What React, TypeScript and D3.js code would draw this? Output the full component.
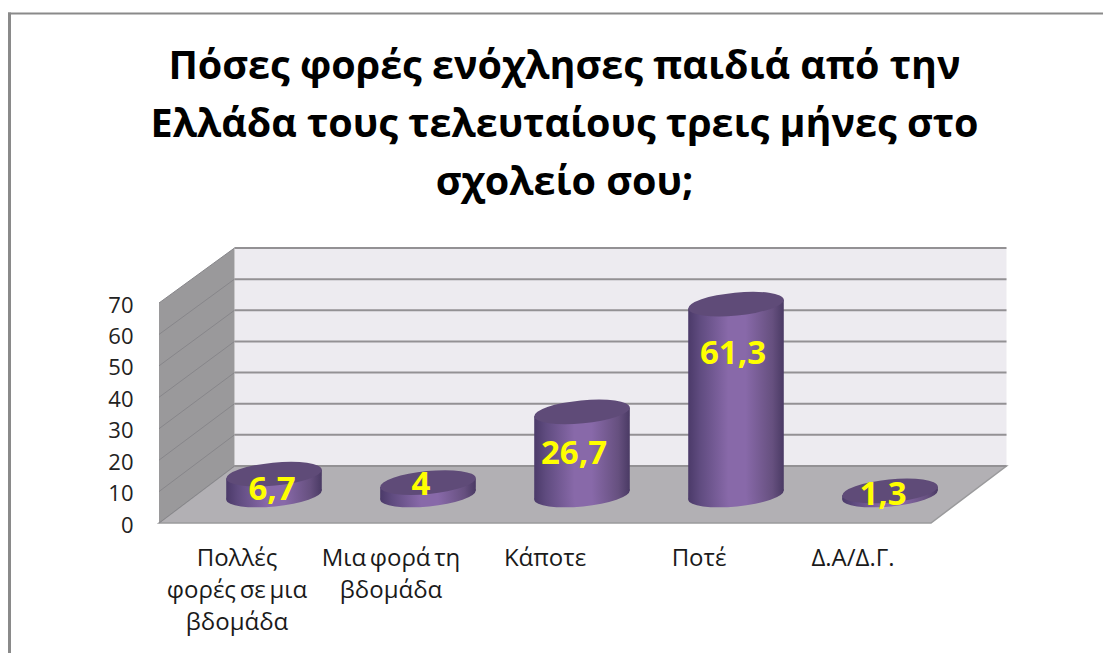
import React from "react";
import * as d3 from "d3";

const titleLines = [
  "Πόσες φορές ενόχλησες παιδιά από την",
  "Ελλάδα τους τελευταίους τρεις μήνες στο",
  "σχολείο σου;",
];
const categories = ["Πολλές|φορές σε μια|βδομάδα", "Μια φορά τη|βδομάδα", "Κάποτε", "Ποτέ", "Δ.Α/Δ.Γ."];
const values = [6.7, 4, 26.7, 61.3, 1.3];
const valueLabels = ["6,7", "4", "26,7", "61,3", "1,3"];
const ticks = [0, 10, 20, 30, 40, 50, 60, 70];

// label placement tweaks relative to the bar's top, separate from the data
const labelDx = [-2, -7, -8, -3, -7];
const labelDy = [26, 12.5, 52, 60, 14];

const W = 1103;
const H = 653;
const DEPTH_X = 75.5;
const FRONT_LEFT = 159;
const FRONT_RIGHT = 931;
const FRONT_BASE = 523;
const FRONT_TOP = 303;
const BACK_BASE = 466;
const BACK_TOP = 248;

const x = d3.scaleBand<string>().domain(categories).range([197, 967]);
const yFront = d3.scaleLinear().domain([0, 70]).range([FRONT_BASE, FRONT_TOP]);
const yBack = d3.scaleLinear().domain([0, 70]).range([BACK_BASE, BACK_TOP]);
const yBar = d3.scaleLinear().domain([0, 70]).range([495, 277]);

const A = 48;
const B = 11.5;
const TILT = -5.6;
const th = (TILT * Math.PI) / 180;
const XEXT = Math.sqrt(A * A * Math.cos(th) ** 2 + B * B * Math.sin(th) ** 2);
const DY = ((A * A - B * B) * Math.sin(th) * Math.cos(th)) / XEXT;

const FONT = "'Open Sans', 'Noto Sans', sans-serif";
const poly = (pts: [number, number][]) => (d3.line()(pts) ?? "") + "Z";

export default function App() {
  return (
    <svg width={W} height={H} viewBox={`0 0 ${W} ${H}`} style={{ position: "absolute", left: 0, top: 0, display: "block", background: "#fff" }}>
      <defs>
        <linearGradient id="cyl" x1="0" x2="1" y1="0" y2="0">
          <stop offset="0" stopColor="#4b3a69" />
          <stop offset="0.12" stopColor="#5f4b7f" />
          <stop offset="0.42" stopColor="#8869a9" />
          <stop offset="0.6" stopColor="#8869a9" />
          <stop offset="0.88" stopColor="#66507f" />
          <stop offset="1" stopColor="#4a3a64" />
        </linearGradient>
      </defs>

      <line x1={8} x2={W} y1={13.5} y2={13.5} stroke="#8a8a8a" strokeWidth={2} />
      <line x1={9.5} x2={9.5} y1={12.5} y2={H} stroke="#8a8a8a" strokeWidth={3} />

      {titleLines.map((t, i) => (
        <text key={t} x={564.5} y={[79, 137, 195][i]} textAnchor="middle" fontFamily={FONT} fontWeight={700} fontSize={39.5} fill="#000">
          {t}
        </text>
      ))}

      {/* back wall */}
      <path d={poly([[FRONT_LEFT + DEPTH_X, yBack(0)], [FRONT_LEFT + DEPTH_X, yBack(70)], [FRONT_RIGHT + DEPTH_X, yBack(70)], [FRONT_RIGHT + DEPTH_X, yBack(0)]])} fill="#edebf0" />
      {/* side wall */}
      <path d={poly([[FRONT_LEFT, yFront(0)], [FRONT_LEFT, yFront(70)], [FRONT_LEFT + DEPTH_X, yBack(70)], [FRONT_LEFT + DEPTH_X, yBack(0)]])} fill="#9a999b" />
      {/* floor */}
      <path d={poly([[FRONT_LEFT, yFront(0)], [FRONT_LEFT + DEPTH_X, yBack(0)], [FRONT_RIGHT + DEPTH_X, yBack(0)], [FRONT_RIGHT, yFront(0)]])} fill="#b2b0b4" stroke="#9a9a9c" strokeWidth={1.5} />

      {ticks.map((t) => (
        <g key={t}>
          <line x1={FRONT_LEFT + DEPTH_X} x2={FRONT_RIGHT + DEPTH_X} y1={yBack(t)} y2={yBack(t)} stroke="#939194" strokeWidth={2} />
          <line x1={FRONT_LEFT} x2={FRONT_LEFT + DEPTH_X} y1={yFront(t)} y2={yBack(t)} stroke="#87868a" strokeWidth={1} />
          <text x={133.5} y={yFront(t) + 9.5} textAnchor="end" fontFamily={FONT} fontSize={22} fill="#222">
            {t}
          </text>
        </g>
      ))}

      {/* cylinders */}
      {categories.map((c, i) => {
        const cx = (x(c) ?? 0) + x.bandwidth() / 2;
        const yT = yBar(values[i]);
        const yB = yBar(0);
        return (
          <g key={c}>
            <ellipse cx={cx} cy={yB} rx={A} ry={B} transform={`rotate(${TILT} ${cx} ${yB})`} fill="url(#cyl)" />
            <path d={poly([[cx - XEXT, yT - DY], [cx + XEXT, yT + DY], [cx + XEXT, yB + DY], [cx - XEXT, yB - DY]])} fill="url(#cyl)" />
            <ellipse cx={cx} cy={yT} rx={A} ry={B} transform={`rotate(${TILT} ${cx} ${yT})`} fill="#5f4b78" />
          </g>
        );
      })}

      {/* value labels */}
      {categories.map((c, i) => (
        <text key={c} x={(x(c) ?? 0) + x.bandwidth() / 2 + labelDx[i]} y={yBar(values[i]) + labelDy[i]} textAnchor="middle" fontFamily={FONT} fontWeight={700} fontSize={33} fill="#ffff00">
          {valueLabels[i]}
        </text>
      ))}

      {/* category labels */}
      {categories.map((c) => (
        <text key={c} textAnchor="middle" fontFamily={FONT} fontSize={24} wordSpacing={-2.5} fill="#1a1a1a">
          {c.split("|").map((line, j) => (
            <tspan key={j} x={(x(c) ?? 0) + x.bandwidth() / 2 - 37} y={566 + j * 32}>
              {line}
            </tspan>
          ))}
        </text>
      ))}
    </svg>
  );
}
